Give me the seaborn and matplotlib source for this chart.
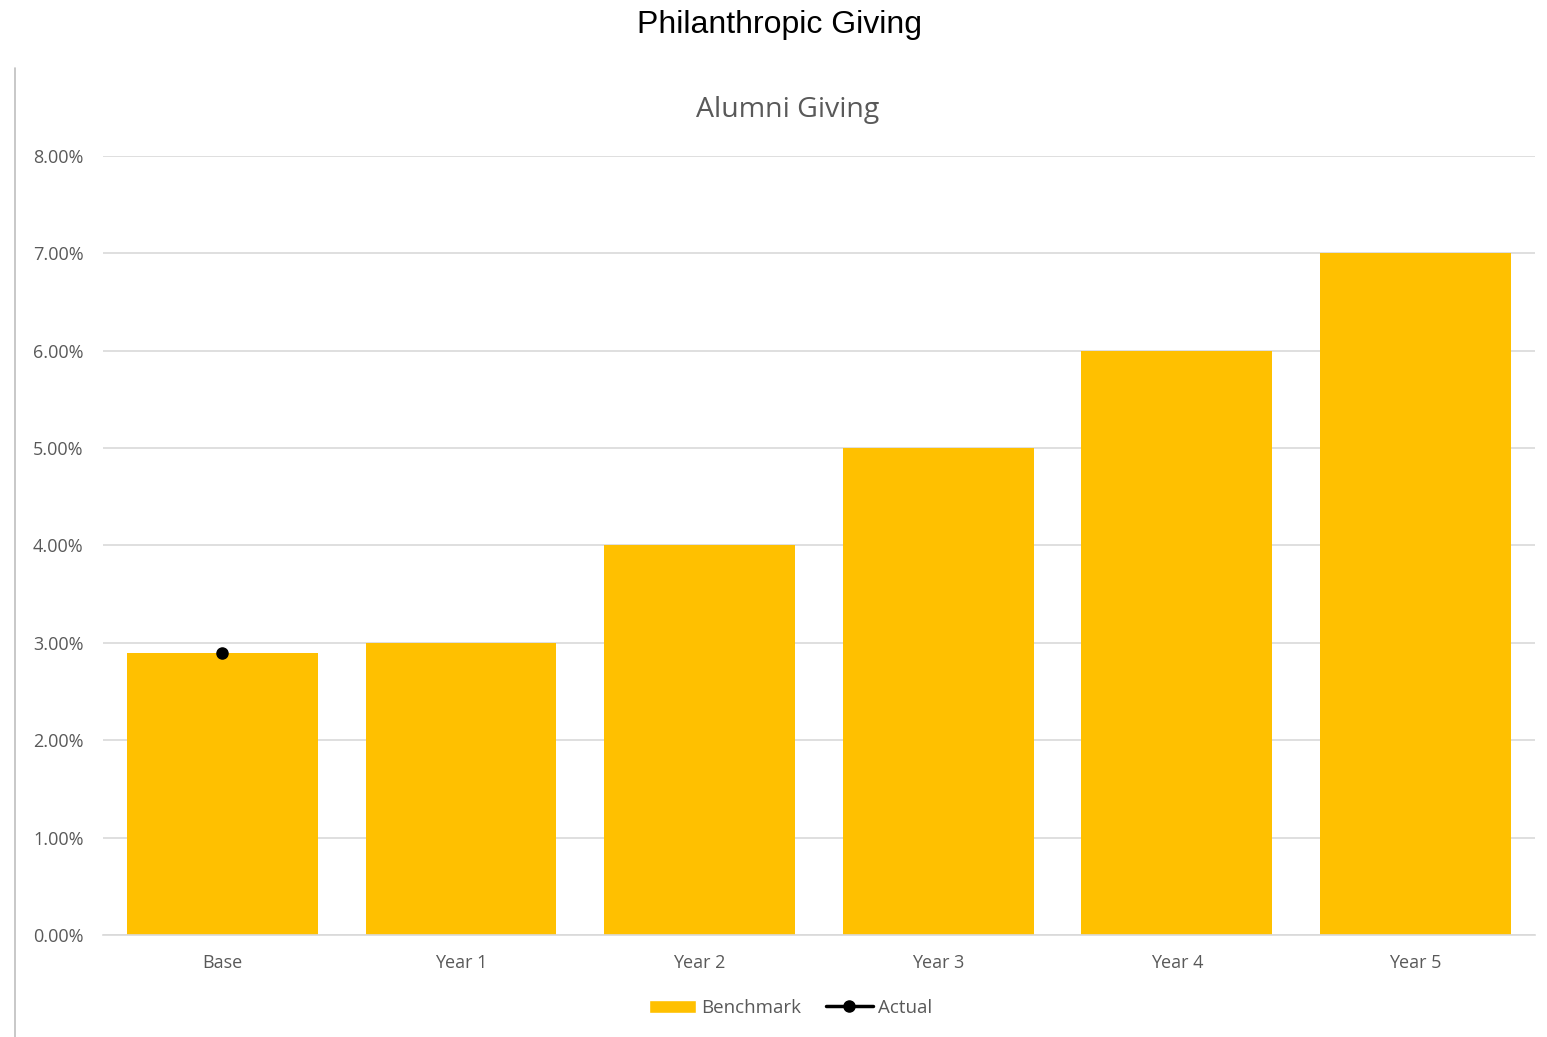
import numpy as np
import pandas as pd
import seaborn as sns
import matplotlib.pyplot as plt
from matplotlib.lines import Line2D
from matplotlib.patches import Patch
from matplotlib.ticker import PercentFormatter

categories = ["Base", "Year 1", "Year 2", "Year 3", "Year 4", "Year 5"]
benchmark = [2.9, 3.0, 4.0, 5.0, 6.0, 7.0]
actual = [2.9, np.nan, np.nan, np.nan, np.nan, np.nan]

d = pd.DataFrame({"cat": categories, "Benchmark": benchmark, "Actual": actual})

sns.set_style("white")
plt.rcParams["font.family"] = ["Open Sans", "DejaVu Sans"]
grey = "#595959"

fig = plt.figure(figsize=(15.47, 10.37), dpi=100)
ax = fig.add_axes([0.0666, 0.0984, 0.9256, 0.7512])

sns.barplot(data=d, x="cat", y="Benchmark", color="#FFC000", width=0.8,
            saturation=1, linewidth=0, ax=ax, zorder=2)
ax.plot(range(len(categories)), d["Actual"], color="black", marker="o",
        markersize=8, linewidth=2.5, zorder=3)

ax.set_ylim(0, 8)
ax.set_xlim(-0.5, len(categories) - 0.5)
ax.set_yticks(np.arange(0, 9, 1))
ax.yaxis.set_major_formatter(PercentFormatter(decimals=2))
ax.grid(axis="y", color="#d9d9d9", linewidth=1.2, zorder=0)
ax.set_axisbelow(True)
for s in ["top", "right", "left"]:
    ax.spines[s].set_visible(False)
ax.spines["bottom"].set_color("#d9d9d9")
ax.spines["bottom"].set_linewidth(1.2)
ax.tick_params(axis="both", length=0, labelsize=13, colors=grey, pad=14)
ax.tick_params(axis="y", pad=14)
ax.set_xlabel("")
ax.set_ylabel("")

fig.text(0.504, 0.976, "Philanthropic Giving", ha="center", va="center",
         fontsize=23, family=["Liberation Sans Narrow", "Liberation Sans", "DejaVu Sans"],
         color="black")
fig.text(0.509, 0.894, "Alumni Giving", ha="center", va="center",
         fontsize=20.5, color=grey)

fig.add_artist(Line2D([15 / 1547, 15 / 1547], [0, 1 - 68 / 1037],
                      color="#bfbfbf", linewidth=1.2))

handles = [Patch(facecolor="#FFC000", label="Benchmark"),
           Line2D([], [], color="black", marker="o", markersize=8,
                  linewidth=2.5, label="Actual")]
leg = fig.legend(handles=handles, loc="center", bbox_to_anchor=(0.511, 0.028),
                 ncol=2, frameon=False, fontsize=13.5, handlelength=2.5,
                 handletextpad=0.3, columnspacing=1.3)
for t in leg.get_texts():
    t.set_color(grey)

fig.savefig("out.png", dpi=100)
